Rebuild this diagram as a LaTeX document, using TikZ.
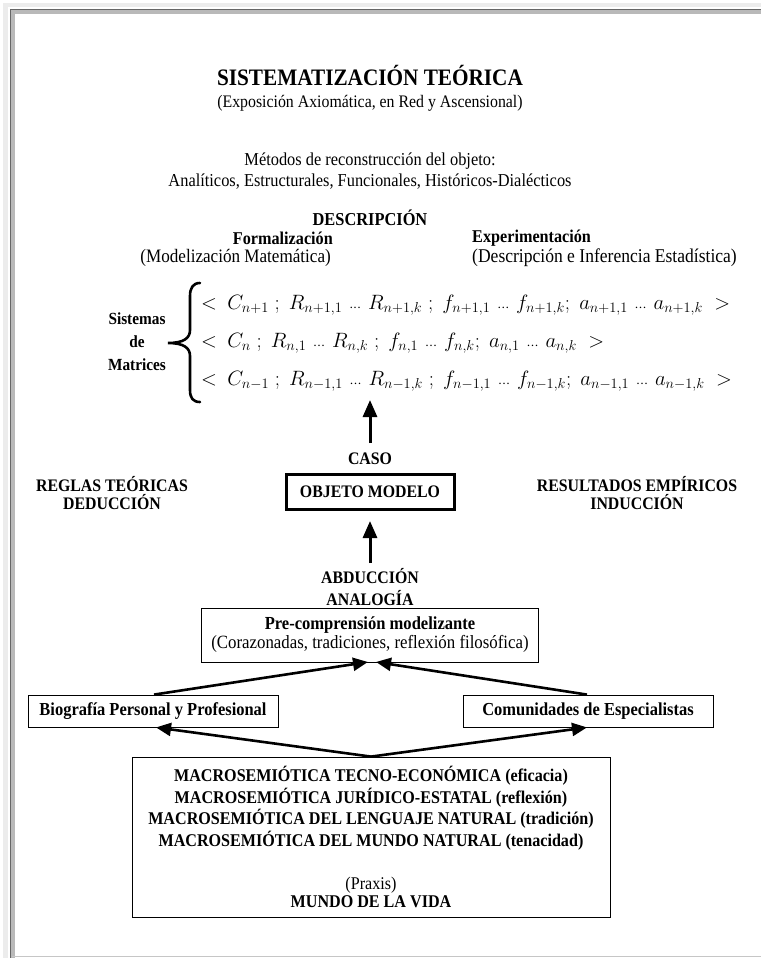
\documentclass[tikz,border=0pt]{standalone}
\usepackage{fontspec}
\setmainfont{Liberation Serif}[FakeStretch=0.9]
\usetikzlibrary{arrows.meta}

\newcommand{\sdots}{\mathinner{\lower2pt\hbox{$\scriptstyle\cdots$}}}

\begin{document}
\begin{tikzpicture}[x=1pt,y=-1pt,
  txt/.style={inner sep=0pt, align=center, font=\fontsize{17.6}{19}\selectfont},
  btxt/.style={inner sep=0pt, align=center, font=\fontsize{17.6}{19}\selectfont\bfseries},
  mrow/.style={inner sep=0pt, anchor=west, font=\fontsize{19.8}{22}\selectfont},
  box/.style={draw, line width=0.8pt, inner sep=0pt, align=center},
  bigarrow/.style={line width=3pt, -{Triangle[length=17pt,width=14pt]}},
  sidearrow/.style={line width=2.6pt, -{Triangle[length=15pt,width=13pt]}}]

\useasboundingbox (0,0) rectangle (761,958);
\fill[white] (0,0) rectangle (761,958);

% page frame
\fill[gray!15] (3,3) rectangle (761,7);
\fill[gray!15] (3,3) rectangle (8,958);
\draw[gray!55, line width=5pt] (12.5,958) -- (12.5,11.5) -- (761,11.5);
\draw[gray!80!black, line width=1pt] (10.5,958) -- (10.5,9.5) -- (761,9.5);
\draw[gray!45, line width=1pt] (12,956.5) -- (761,956.5);

% heading
\node[inner sep=0pt, font=\fontsize{23.6}{26}\selectfont\bfseries] (title) at (370,75) {SISTEMATIZACIÓN TEÓRICA};
\node[txt] (subtitle) at (370,103) {(Exposición Axiomática, en Red y Ascensional)};
\node[txt, font=\fontsize{18.2}{21}\selectfont] (metodos) at (370,171) {Métodos de reconstrucción del objeto:\\Analíticos, Estructurales, Funcionales, Históricos-Dialécticos};

% description
\node[btxt, font=\fontsize{18.2}{19}\selectfont\bfseries] (descr) at (370,218) {DESCRIPCIÓN};
\node[btxt, anchor=east, font=\fontsize{18}{19}\selectfont\bfseries] (formal) at (333,238) {Formalización};
\node[txt, anchor=east, font=\fontsize{19}{20}\selectfont] (modeliz) at (331,258) {(Modelización Matemática)};
\node[btxt, anchor=west, font=\fontsize{18}{19}\selectfont\bfseries] (experim) at (472,238) {Experimentación};
\node[txt, anchor=west, font=\fontsize{19.5}{20}\selectfont] (inferen) at (472,258) {(Descripción e Inferencia Estadística)};

% system of matrices
\node[btxt, font=\fontsize{17}{23}\selectfont\bfseries] (sistemas) at (137,342) {Sistemas\\de\\Matrices};
\draw[line width=2.6pt, line cap=round]
  (200,283) .. controls (193,283) and (190,288) .. (190,296) -- (190,330)
  .. controls (190,338) and (184,343) .. (168,343)
  .. controls (184,343) and (190,348) .. (190,356) -- (190,390)
  .. controls (190,398) and (193,402) .. (200,402);
\node[mrow] (row1) at (201,305) {$<\:C_{n+1}\;;\;R_{n+1,1}\,\sdots\,R_{n+1,k}\;;\;f_{n+1,1}\,\sdots\,f_{n+1,k};\;a_{n+1,1}\,\sdots\,a_{n+1,k}\;>$};
\node[mrow] (row2) at (201,343) {$<\:C_{n}\;;\;R_{n,1}\,\sdots\,R_{n,k}\;;\;f_{n,1}\,\sdots\,f_{n,k};\;a_{n,1}\,\sdots\,a_{n,k}\;>$};
\node[mrow] (row3) at (201,381) {$<\:C_{n-1}\;;\;R_{n-1,1}\,\sdots\,R_{n-1,k}\;;\;f_{n-1,1}\,\sdots\,f_{n-1,k};\;a_{n-1,1}\,\sdots\,a_{n-1,k}\;>$};

% object model
\node[btxt] (caso) at (370,459) {CASO};
\coordinate (casotop) at (370,443);
\coordinate (matbottom) at (370,400);
\draw[bigarrow] (casotop) -- (matbottom);

\node[btxt, font=\fontsize{17.6}{18}\selectfont\bfseries] (reglas) at (112,493) {REGLAS TEÓRICAS\\DEDUCCIÓN};
\node[btxt, font=\fontsize{17.6}{18}\selectfont\bfseries] (result) at (637,493) {RESULTADOS EMPÍRICOS\\INDUCCIÓN};
\node[box, line width=3pt, minimum width=168, minimum height=35, font=\fontsize{17.6}{19}\selectfont\bfseries] (objeto) at (370,492) {OBJETO MODELO};

\node[btxt, font=\fontsize{17.6}{22}\selectfont\bfseries] (abduc) at (370,587) {ABDUCCIÓN\\ANALOGÍA};
\coordinate (abductop) at (370,563);
\draw[bigarrow] (abductop) -- ([yshift=-10pt]objeto.south);

% pre-understanding
\node[box, minimum width=337, minimum height=54, font=\fontsize{18.7}{19}\selectfont] (precomp) at (370,635)
  {{\fontsize{18.4}{19}\selectfont\bfseries Pre-comprensión modelizante}\\(Corazonadas, tradiciones, reflexión filosófica)};
\node[box, minimum width=250, minimum height=32, font=\fontsize{18.3}{19}\selectfont\bfseries] (biog) at (153,711) {Biografía Personal y Profesional};
\node[box, minimum width=250, minimum height=32, font=\fontsize{18.3}{19}\selectfont\bfseries] (comun) at (588,711) {Comunidades de Especialistas};

\coordinate (tipL) at (368,662);
\coordinate (tipR) at (376,662);
\draw[sidearrow] ([xshift=1pt]biog.north) -- (tipL);
\draw[sidearrow] ([xshift=-1pt]comun.north) -- (tipR);

% life-world
\node[box, minimum width=478, minimum height=160, font=\fontsize{17.9}{21.7}\selectfont\bfseries] (macro) at (371,837)
  {MACROSEMIÓTICA TECNO-ECONÓMICA (eficacia)\\
   MACROSEMIÓTICA JURÍDICO-ESTATAL (reflexión)\\
   MACROSEMIÓTICA DEL LENGUAJE NATURAL (tradición)\\
   MACROSEMIÓTICA DEL MUNDO NATURAL (tenacidad)\\[21pt]
   {\mdseries (Praxis)}\\[-3.5pt]
   MUNDO DE LA VIDA};
\draw[sidearrow] (macro.north) -- ([xshift=3pt]biog.south);
\draw[sidearrow] (macro.north) -- ([xshift=-1pt]comun.south);

\end{tikzpicture}
\end{document}
